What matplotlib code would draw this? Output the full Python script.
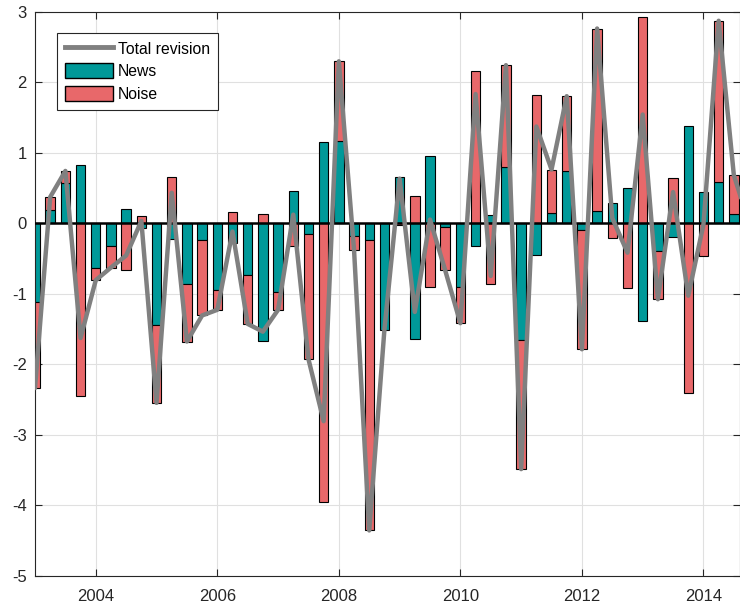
import numpy as np
import matplotlib as mpl

mpl.use('Agg')
import matplotlib.pyplot as plt
from matplotlib.patches import Patch
from matplotlib.lines import Line2D

plt.rcParams['font.family'] = ['Liberation Sans', 'DejaVu Sans']
plt.rcParams['axes.unicode_minus'] = False

# quarterly dates, 2003Q1 onwards
dates = np.arange(2003.0, 2015.0, 0.25)

news = [-1.12, 0.19, 0.57, 0.82, -0.64, -0.33, 0.20, -0.07, -1.44, -0.23,
        -0.87, -0.24, -0.95, -0.28, -0.73, -1.67, -0.98, 0.45, -0.16, 1.15,
        1.165, -0.19, -0.24, -1.51, 0.66, -1.64, 0.95, -0.05, -0.90, -0.33,
        0.11, 0.79, -1.66, -0.45, 0.15, 0.74, -0.10, 0.17, 0.28, 0.50,
        -1.39, -0.39, -0.20, 1.38, 0.44, 0.58, 0.13, 0.10]
noise = [-1.22, 0.18, 0.17, -2.45, -0.17, -0.30, -0.66, 0.10, -1.11, 0.66,
         -0.81, -1.07, -0.28, 0.16, -0.70, 0.13, -0.25, -0.33, -1.77, -3.96,
         1.13, -0.19, -4.12, 0.0, -0.03, 0.38, -0.90, -0.62, -0.52, 2.16,
         -0.86, 1.45, -1.83, 1.82, 0.61, 1.06, -1.69, 2.59, -0.21, -0.92,
         2.93, -0.69, 0.64, -2.41, -0.46, 2.29, 0.55, -0.10]

labels = ['Total revision', 'News', 'Noise']
c_news = '#009999'
c_noise = '#e8686a'
c_total = '#808080'

news = np.array(news)
noise = np.array(noise)
total = news + noise
# noise stacks on top of news only when both have the same sign
noise_base = np.where(np.sign(noise) == np.sign(news), news, 0.0)

fig = plt.figure(figsize=(7.4, 6.11), dpi=100)
ax = fig.add_axes([0.0473, 0.058, 0.953, 0.923])

w = 0.155
ax.bar(dates, news, width=w, color=c_news, edgecolor='black', linewidth=0.8, zorder=2)
ax.bar(dates, noise, width=w, bottom=noise_base, color=c_noise, edgecolor='black',
       linewidth=0.8, zorder=2)
ax.axhline(0, color='black', linewidth=1.8, zorder=3)
ax.plot(dates, total, color=c_total, linewidth=3.2, solid_joinstyle='round',
        solid_capstyle='round', zorder=4)

ax.set_xlim(2003.0, 2014.605)
ax.set_ylim(-5, 3)
ax.set_xticks([2004, 2006, 2008, 2010, 2012, 2014])
ax.set_yticks(np.arange(-5, 4, 1))
ax.grid(True, color='#e0e0e0', linewidth=0.8)
ax.set_axisbelow(True)
ax.tick_params(direction='in', top=True, right=True, labelsize=12, colors='#262626',
               length=5, width=0.8)
ax.tick_params(axis='x', pad=10)
ax.tick_params(axis='y', pad=6)
for s in ax.spines.values():
    s.set_color('#262626')
    s.set_linewidth(0.8)

handles = [Line2D([], [], color=c_total, linewidth=3.5),
           Patch(facecolor=c_news, edgecolor='black'),
           Patch(facecolor=c_noise, edgecolor='black')]
leg = ax.legend(handles, labels, loc='upper left', bbox_to_anchor=(0.031, 0.962),
                fontsize=11.3, fancybox=False, framealpha=1, edgecolor='#262626',
                handlelength=3.1, handleheight=1.1, labelspacing=0.42,
                handletextpad=0.3, borderpad=0.5, borderaxespad=0)
leg.get_frame().set_linewidth(0.8)

plt.savefig('out.png', dpi=100)
